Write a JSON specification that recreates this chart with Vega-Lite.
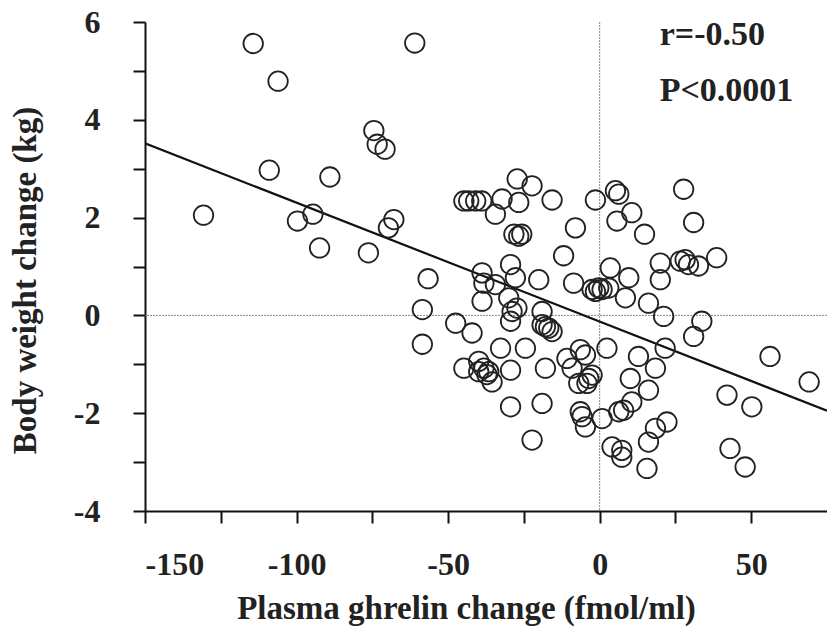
{
  "$schema": "https://vega.github.io/schema/vega-lite/v6.json",
  "width": 682,
  "height": 489,
  "autosize": {"type": "none"},
  "padding": {"left": 145, "top": 22, "right": 0, "bottom": 117},
  "background": "white",
  "config": {
    "view": {"stroke": null},
    "font": "Liberation Serif",
    "axis": {
      "grid": false,
      "domainColor": "#111",
      "domainWidth": 2,
      "tickColor": "#111",
      "tickWidth": 2,
      "tickSize": 12,
      "labelFont": "Liberation Serif",
      "labelFontWeight": "bold",
      "labelFontSize": 32,
      "labelColor": "#222",
      "titleFont": "Liberation Serif",
      "titleFontWeight": "bold",
      "titleFontSize": 33,
      "titleColor": "#222"
    }
  },
  "datasets": {
    "pts": [
      {"ghrelin": -114.3, "weight": 5.56}, {"ghrelin": -61, "weight": 5.57}, {"ghrelin": -106.1, "weight": 4.79},
      {"ghrelin": -74.5, "weight": 3.78}, {"ghrelin": -73.4, "weight": 3.5}, {"ghrelin": -70.8, "weight": 3.4},
      {"ghrelin": -109, "weight": 2.97}, {"ghrelin": -89, "weight": 2.83}, {"ghrelin": -130.7, "weight": 2.05},
      {"ghrelin": -99.7, "weight": 1.93}, {"ghrelin": -94.6, "weight": 2.07}, {"ghrelin": -67.9, "weight": 1.96},
      {"ghrelin": -69.7, "weight": 1.79}, {"ghrelin": -92.4, "weight": 1.38}, {"ghrelin": -76.3, "weight": 1.28},
      {"ghrelin": -44.8, "weight": 2.34}, {"ghrelin": -43.2, "weight": 2.34}, {"ghrelin": -40.9, "weight": 2.34},
      {"ghrelin": -38.9, "weight": 2.34}, {"ghrelin": -34.4, "weight": 2.07}, {"ghrelin": -32.2, "weight": 2.38},
      {"ghrelin": -27.2, "weight": 2.79}, {"ghrelin": -22.3, "weight": 2.65}, {"ghrelin": -26.7, "weight": 2.31},
      {"ghrelin": -15.7, "weight": 2.36}, {"ghrelin": -1.4, "weight": 2.36}, {"ghrelin": -28.3, "weight": 1.66},
      {"ghrelin": -26.7, "weight": 1.62}, {"ghrelin": -25.7, "weight": 1.66}, {"ghrelin": -8, "weight": 1.79},
      {"ghrelin": -11.9, "weight": 1.22},
      {"ghrelin": -56.6, "weight": 0.75}, {"ghrelin": -58.5, "weight": 0.12}, {"ghrelin": -58.5, "weight": -0.59},
      {"ghrelin": -47.5, "weight": -0.16}, {"ghrelin": -42.1, "weight": -0.36}, {"ghrelin": -38.8, "weight": 0.87},
      {"ghrelin": -29.4, "weight": 1.04}, {"ghrelin": -20.1, "weight": 0.73}, {"ghrelin": -8.6, "weight": 0.66},
      {"ghrelin": -2.5, "weight": 0.53}, {"ghrelin": -38.2, "weight": 0.66}, {"ghrelin": -38.8, "weight": 0.29},
      {"ghrelin": -34.4, "weight": 0.63}, {"ghrelin": -30, "weight": 0.36}, {"ghrelin": -28.9, "weight": 0.08},
      {"ghrelin": -27.3, "weight": 0.15}, {"ghrelin": -29.4, "weight": -0.12}, {"ghrelin": -27.8, "weight": 0.77},
      {"ghrelin": -19, "weight": 0.08}, {"ghrelin": -17.9, "weight": -0.23}, {"ghrelin": -16.8, "weight": -0.26},
      {"ghrelin": -15.7, "weight": -0.33}, {"ghrelin": -19, "weight": -0.19}, {"ghrelin": -24.5, "weight": -0.67},
      {"ghrelin": -32.7, "weight": -0.67}, {"ghrelin": -44.8, "weight": -1.08}, {"ghrelin": -39.9, "weight": -0.94},
      {"ghrelin": -38.2, "weight": -1.08}, {"ghrelin": -36.6, "weight": -1.15}, {"ghrelin": -35.5, "weight": -1.36},
      {"ghrelin": -37.2, "weight": -1.21}, {"ghrelin": -39.9, "weight": -1.15}, {"ghrelin": -29.4, "weight": -1.12},
      {"ghrelin": -17.9, "weight": -1.08}, {"ghrelin": -10.8, "weight": -0.88}, {"ghrelin": -9.1, "weight": -1.08},
      {"ghrelin": -6.4, "weight": -0.7}, {"ghrelin": -4.7, "weight": -0.81}, {"ghrelin": -3.6, "weight": -1.29},
      {"ghrelin": -2.5, "weight": -1.22}, {"ghrelin": -4.2, "weight": -1.39}, {"ghrelin": -6.9, "weight": -1.39},
      {"ghrelin": -29.4, "weight": -1.87}, {"ghrelin": -19, "weight": -1.8}, {"ghrelin": -6.4, "weight": -1.97},
      {"ghrelin": -5.8, "weight": -2.07}, {"ghrelin": -4.7, "weight": -2.28}, {"ghrelin": -22.3, "weight": -2.55},
      {"ghrelin": 5.2, "weight": 2.55}, {"ghrelin": 6.3, "weight": 2.48}, {"ghrelin": 10.6, "weight": 2.1},
      {"ghrelin": 5.7, "weight": 1.93}, {"ghrelin": 14.8, "weight": 1.66}, {"ghrelin": 27.7, "weight": 2.58},
      {"ghrelin": 31, "weight": 1.9}, {"ghrelin": 3.5, "weight": 0.97}, {"ghrelin": 9.6, "weight": 0.77},
      {"ghrelin": -0.3, "weight": 0.56}, {"ghrelin": 0.8, "weight": 0.53}, {"ghrelin": 3, "weight": 0.56},
      {"ghrelin": -1.4, "weight": 0.49}, {"ghrelin": 8.5, "weight": 0.36}, {"ghrelin": 16.1, "weight": 0.25},
      {"ghrelin": 21.1, "weight": -0.02}, {"ghrelin": 20, "weight": 1.07}, {"ghrelin": 20, "weight": 0.73},
      {"ghrelin": 26.6, "weight": 1.11}, {"ghrelin": 28.2, "weight": 1.14}, {"ghrelin": 29.3, "weight": 1.04},
      {"ghrelin": 32.6, "weight": 1.01}, {"ghrelin": 38.6, "weight": 1.18}, {"ghrelin": 33.7, "weight": -0.12},
      {"ghrelin": 31, "weight": -0.43}, {"ghrelin": 21.6, "weight": -0.67}, {"ghrelin": 2.4, "weight": -0.67},
      {"ghrelin": 12.8, "weight": -0.84}, {"ghrelin": 18.4, "weight": -1.08}, {"ghrelin": 10.1, "weight": -1.29},
      {"ghrelin": 16.1, "weight": -1.53}, {"ghrelin": 10.6, "weight": -1.77}, {"ghrelin": 6.3, "weight": -1.97},
      {"ghrelin": 7.9, "weight": -1.94}, {"ghrelin": 0.8, "weight": -2.11}, {"ghrelin": 22.2, "weight": -2.18},
      {"ghrelin": 18.4, "weight": -2.31}, {"ghrelin": 16.1, "weight": -2.59}, {"ghrelin": 4.1, "weight": -2.69},
      {"ghrelin": 7.3, "weight": -2.76}, {"ghrelin": 7.3, "weight": -2.9}, {"ghrelin": 15.6, "weight": -3.13},
      {"ghrelin": 56.2, "weight": -0.84}, {"ghrelin": 69.1, "weight": -1.36}, {"ghrelin": 42, "weight": -1.63},
      {"ghrelin": 50.2, "weight": -1.87}, {"ghrelin": 43, "weight": -2.72}, {"ghrelin": 48, "weight": -3.1}
    ],
    "fit": [
      {"ghrelin": -150, "weight": 3.52},
      {"ghrelin": 75, "weight": -1.95}
    ],
    "zero": [{"v": 0}],
    "notes": [
      {"label": "r=-0.50", "gx": 19.8, "wy": 5.52},
      {"label": "P<0.0001", "gx": 19.8, "wy": 4.39}
    ]
  },
  "layer": [
    {
      "data": {"name": "zero"},
      "mark": {"type": "rule", "color": "#888", "strokeWidth": 1, "strokeDash": [2, 1]},
      "encoding": {"x": {"field": "v", "type": "quantitative", "scale": {"domain": [-150, 75]}}}
    },
    {
      "data": {"name": "zero"},
      "mark": {"type": "rule", "color": "#888", "strokeWidth": 1, "strokeDash": [2, 1]},
      "encoding": {"y": {"field": "v", "type": "quantitative", "scale": {"domain": [-4, 6]}}}
    },
    {
      "data": {"name": "fit"},
      "mark": {"type": "line", "color": "#111", "strokeWidth": 2.2, "clip": true},
      "encoding": {
        "x": {"field": "ghrelin", "type": "quantitative"},
        "y": {"field": "weight", "type": "quantitative"}
      }
    },
    {
      "data": {"name": "pts"},
      "mark": {"type": "point", "shape": "circle", "filled": false, "stroke": "#222", "strokeWidth": 1.8, "size": 380, "opacity": 1},
      "encoding": {
        "x": {
          "field": "ghrelin", "type": "quantitative",
          "scale": {"domain": [-150, 75], "nice": false, "zero": false},
          "axis": {
            "values": [-150, -125, -100, -75, -50, -25, 0, 25, 50],
            "labelExpr": "datum.value % 50 === 0 ? toString(datum.value) : ''",
            "labelPadding": 26,
            "title": "Plasma ghrelin change (fmol/ml)",
            "titleX": 321,
            "titleY": 107,
            "titleBaseline": "alphabetic",
            "titleAlign": "center",
            "titleAnchor": null
          }
        },
        "y": {
          "field": "weight", "type": "quantitative",
          "scale": {"domain": [-4, 6], "nice": false, "zero": false},
          "axis": {
            "values": [-4, -3, -2, -1, 0, 1, 2, 3, 4, 5, 6],
            "labelExpr": "datum.value % 2 === 0 ? toString(datum.value) : ''",
            "labelPadding": 33,
            "title": "Body weight change (kg)",
            "titleX": -110,
            "titleY": 258,
            "titleAngle": -90,
            "titleBaseline": "alphabetic",
            "titleAlign": "center",
            "titleAnchor": null
          }
        }
      }
    },
    {
      "data": {"name": "notes"},
      "mark": {"type": "text", "align": "left", "baseline": "alphabetic", "font": "Liberation Serif", "fontWeight": "bold", "fontSize": 34, "color": "#222"},
      "encoding": {
        "x": {"field": "gx", "type": "quantitative"},
        "y": {"field": "wy", "type": "quantitative"},
        "text": {"field": "label", "type": "nominal"}
      }
    }
  ]
}
